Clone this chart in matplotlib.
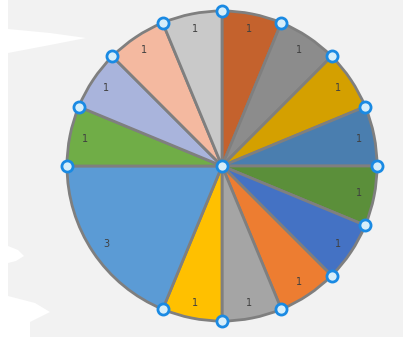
import matplotlib
matplotlib.use('Agg')
import matplotlib.pyplot as plt
from matplotlib.patches import Rectangle, Polygon
import numpy as np

# slice values, clockwise from 12 o'clock
values = [1, 1, 1, 1, 1, 1, 1, 1, 1, 3, 1, 1, 1, 1]
labels = [str(v) for v in values]
colors = ['#C4622D', '#8C8C8C', '#D4A000', '#4A7EAF', '#5B8F3A', '#4472C4',
          '#ED7D31', '#A5A5A5', '#FFC000', '#5B9BD5', '#70AD47', '#A9B4DC',
          '#F4B9A0', '#C9C9C9']

W, H = 403, 342
fig = plt.figure(figsize=(W / 100, H / 100), dpi=100)
fig.patch.set_facecolor('white')

# light gray backdrop with torn white notches on the left
def px(x, y):
    return (x / W, 1 - y / H)

fig.patches.append(Rectangle(px(8, 337), (W - 8) / W, 337 / H, transform=fig.transFigure,
                             facecolor='#F2F2F2', edgecolor='none', zorder=-2))
for pts in [[(8, 29), (50, 33), (86, 38), (50, 45), (8, 53)],
            [(8, 246), (18, 250), (24, 256), (16, 261), (8, 263)],
            [(8, 296), (35, 303), (50, 312), (38, 318), (30, 322), (30, 337), (8, 337)]]:
    fig.patches.append(Polygon([px(x, y) for x, y in pts], closed=True, transform=fig.transFigure,
                               facecolor='white', edgecolor='none', zorder=-1))

ax = fig.add_axes([67 / W, (H - 321) / H, 310 / W, 310 / H])
ax.set_zorder(1)
ax.set_facecolor('none')

wedges, texts = ax.pie(values, labels=labels, colors=colors, startangle=90, counterclock=False,
                       labeldistance=0.9, radius=1,
                       wedgeprops=dict(edgecolor='#7F7F7F', linewidth=2),
                       textprops=dict(fontsize=7, color='#404040', ha='center', va='center'))
for w in wedges:
    w.set_clip_on(False)

# selection handles on slice boundaries and centre
hx = [np.cos(np.radians(w.theta1)) for w in wedges] + [0]
hy = [np.sin(np.radians(w.theta1)) for w in wedges] + [0]
ax.plot(hx, hy, 'o', ms=8, mfc='#D6EEFA', mec='#1A8AE3', mew=2, clip_on=False, zorder=5)

ax.set_xlim(-1, 1)
ax.set_ylim(-1, 1)
ax.set_aspect('auto')
ax.axis('off')

fig.savefig('out.png', dpi=100)
